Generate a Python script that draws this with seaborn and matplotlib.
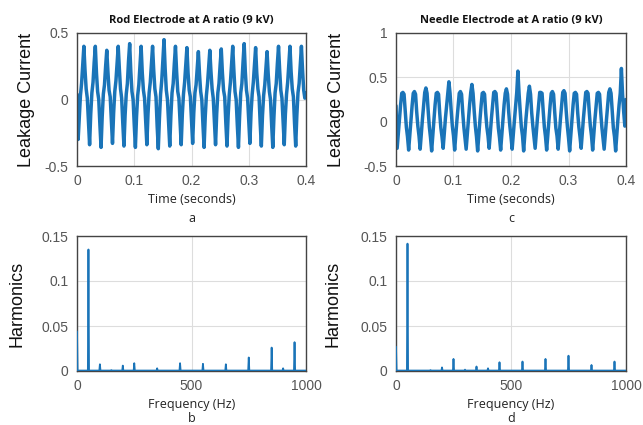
import numpy as np
import pandas as pd
import matplotlib
matplotlib.use("Agg")
import matplotlib.pyplot as plt
import seaborn as sns

# ---------------- data ----------------
# leakage current samples every 2 ms, 0 .. 0.4 s (one row = one 20 ms cycle)
rod_current = [
    0.04, -0.30, -0.14, 0.03, 0.12, 0.26, 0.40, 0.22, 0.08, 0.01,
    -0.17, -0.34, -0.11, 0.05, 0.13, 0.28, 0.40, 0.20, 0.06, 0.00,
    -0.19, -0.36, -0.13, 0.04, 0.11, 0.25, 0.37, 0.21, 0.07, 0.02,
    -0.16, -0.33, -0.10, 0.06, 0.14, 0.27, 0.40, 0.23, 0.08, 0.01,
    -0.18, -0.35, -0.12, 0.04, 0.12, 0.29, 0.42, 0.21, 0.06, 0.00,
    -0.19, -0.36, -0.13, 0.03, 0.11, 0.26, 0.40, 0.20, 0.07, 0.01,
    -0.17, -0.34, -0.11, 0.05, 0.13, 0.27, 0.40, 0.22, 0.08, 0.02,
    -0.20, -0.37, -0.14, 0.04, 0.14, 0.30, 0.45, 0.23, 0.07, 0.00,
    -0.18, -0.35, -0.12, 0.05, 0.12, 0.27, 0.40, 0.21, 0.06, 0.01,
    -0.17, -0.34, -0.11, 0.04, 0.13, 0.26, 0.39, 0.20, 0.07, 0.02,
    -0.16, -0.33, -0.10, 0.05, 0.11, 0.24, 0.36, 0.19, 0.06, 0.00,
    -0.19, -0.36, -0.13, 0.03, 0.12, 0.25, 0.37, 0.21, 0.08, 0.01,
    -0.17, -0.34, -0.11, 0.05, 0.12, 0.26, 0.38, 0.20, 0.07, 0.02,
    -0.18, -0.35, -0.12, 0.04, 0.13, 0.27, 0.40, 0.22, 0.06, 0.00,
    -0.19, -0.36, -0.13, 0.05, 0.12, 0.28, 0.42, 0.21, 0.07, 0.01,
    -0.16, -0.33, -0.10, 0.04, 0.13, 0.26, 0.39, 0.20, 0.08, 0.02,
    -0.18, -0.35, -0.12, 0.03, 0.11, 0.24, 0.36, 0.19, 0.06, 0.00,
    -0.19, -0.36, -0.13, 0.05, 0.12, 0.27, 0.40, 0.22, 0.07, 0.01,
    -0.17, -0.34, -0.11, 0.04, 0.13, 0.27, 0.40, 0.21, 0.08, 0.02,
    -0.18, -0.35, -0.12, 0.05, 0.12, 0.26, 0.40, 0.22, 0.07, 0.01,
    0.05,
]
needle_current = [
    0.18, -0.30, -0.14, 0.03, 0.19, 0.32, 0.33, 0.31, 0.12, -0.06,
    -0.17, -0.32, -0.15, 0.02, 0.18, 0.32, 0.34, 0.31, 0.11, -0.05,
    -0.16, -0.31, -0.14, 0.03, 0.18, 0.33, 0.38, 0.32, 0.12, -0.06,
    -0.18, -0.33, -0.15, 0.02, 0.19, 0.32, 0.33, 0.31, 0.10, -0.07,
    -0.17, -0.30, -0.13, 0.04, 0.18, 0.33, 0.45, 0.32, 0.12, -0.05,
    -0.16, -0.32, -0.15, 0.02, 0.17, 0.32, 0.34, 0.31, 0.11, -0.06,
    -0.18, -0.31, -0.14, 0.03, 0.19, 0.33, 0.42, 0.32, 0.12, -0.05,
    -0.17, -0.33, -0.15, 0.02, 0.18, 0.32, 0.33, 0.31, 0.10, -0.06,
    -0.16, -0.30, -0.13, 0.04, 0.18, 0.33, 0.34, 0.32, 0.12, -0.07,
    -0.18, -0.32, -0.15, 0.03, 0.19, 0.32, 0.37, 0.31, 0.11, -0.05,
    -0.17, -0.31, -0.14, 0.02, 0.18, 0.33, 0.57, 0.32, 0.12, -0.06,
    -0.16, -0.33, -0.15, 0.03, 0.17, 0.32, 0.40, 0.31, 0.10, -0.05,
    -0.18, -0.30, -0.13, 0.04, 0.19, 0.33, 0.33, 0.32, 0.12, -0.06,
    -0.17, -0.32, -0.15, 0.02, 0.18, 0.32, 0.34, 0.31, 0.11, -0.07,
    -0.16, -0.31, -0.14, 0.03, 0.18, 0.33, 0.35, 0.32, 0.12, -0.05,
    -0.18, -0.33, -0.15, 0.02, 0.19, 0.32, 0.33, 0.31, 0.10, -0.06,
    -0.17, -0.30, -0.13, 0.04, 0.18, 0.33, 0.34, 0.32, 0.12, -0.05,
    -0.16, -0.32, -0.15, 0.03, 0.17, 0.32, 0.33, 0.31, 0.11, -0.06,
    -0.18, -0.31, -0.14, 0.02, 0.18, 0.33, 0.37, 0.32, 0.12, -0.07,
    -0.17, -0.33, -0.15, 0.03, 0.19, 0.32, 0.60, 0.31, 0.11, -0.05,
    0.25,
]
sample_step = 0.002  # s

# harmonic spectra: DC value, then line frequencies (Hz) and amplitudes
rod_dc = 0.044
rod_freqs = [50, 100, 150, 200, 250, 350, 450, 550, 650, 750, 850, 900, 950]
rod_amps = [0.135, 0.0075, 0.001, 0.006, 0.0087, 0.003, 0.0087, 0.008, 0.0075,
            0.015, 0.026, 0.003, 0.032]
needle_dc = 0.027
needle_freqs = [50, 150, 200, 250, 300, 350, 400, 450, 550, 650, 750, 850, 950]
needle_amps = [0.1415, 0.001, 0.004, 0.0134, 0.0015, 0.005, 0.003, 0.0097,
               0.0105, 0.0134, 0.017, 0.0067, 0.0105]

titles = ["Rod Electrode at A ratio (9 kV)", "Needle Electrode at A ratio (9 kV)"]
letters = ["a", "c", "b", "d"]

# ---------------- build tables ----------------
def wave_df(values):
    t = np.arange(len(values)) * sample_step
    return pd.DataFrame({"t": t, "i": values})

def spec_df(dc, freqs, amps):
    f = [0.0, 2.5]
    a = [dc, 0.0005]
    for fr, am in zip(freqs, amps):
        f += [fr - 2.5, fr, fr + 2.5]
        a += [0.0005, am, 0.0005]
    f.append(1000.0)
    a.append(0.0005)
    return pd.DataFrame({"f": f, "a": a})

sns.set_style("white")
plt.rcParams["axes.unicode_minus"] = False

W, H = 643, 425
fig = plt.figure(figsize=(W / 100, H / 100), dpi=100)

def px_axes(x0, x1, ytop, ybot):
    return fig.add_axes([x0 / W, 1 - ybot / H, (x1 - x0) / W, (ybot - ytop) / H])

ax_a = px_axes(77, 306, 33, 166)
ax_c = px_axes(396, 626, 33, 166)
ax_b = px_axes(77, 306, 236, 371)
ax_d = px_axes(396, 626, 236, 371)

line_blue = "#1a74b8"
tick_col = "#555555"

sns.lineplot(data=wave_df(rod_current), x="t", y="i", ax=ax_a,
             color=line_blue, lw=2.5, estimator=None)
sns.lineplot(data=wave_df(needle_current), x="t", y="i", ax=ax_c,
             color=line_blue, lw=2.5, estimator=None)
sns.lineplot(data=spec_df(rod_dc, rod_freqs, rod_amps), x="f", y="a", ax=ax_b,
             color=line_blue, lw=1.3, estimator=None, zorder=3)
sns.lineplot(data=spec_df(needle_dc, needle_freqs, needle_amps), x="f", y="a",
             ax=ax_d, color=line_blue, lw=1.3, estimator=None, zorder=3)

for ax in (ax_a, ax_c):
    ax.set_xlim(0, 0.4)
    ax.set_xticks([0, 0.1, 0.2, 0.3, 0.4])
    ax.set_xticklabels(["0", "0.1", "0.2", "0.3", "0.4"])
ax_a.set_ylim(-0.5, 0.5)
ax_a.set_yticks([-0.5, 0, 0.5])
ax_a.set_yticklabels(["-0.5", "0", "0.5"])
ax_c.set_ylim(-0.5, 1)
ax_c.set_yticks([-0.5, 0, 0.5, 1])
ax_c.set_yticklabels(["-0.5", "0", "0.5", "1"])
for ax in (ax_b, ax_d):
    ax.set_xlim(0, 1000)
    ax.set_xticks([0, 500, 1000])
    ax.set_xticklabels(["0", "500", "1000"])
    ax.set_ylim(0, 0.15)
    ax.set_yticks([0, 0.05, 0.1, 0.15])
    ax.set_yticklabels(["0", "0.05", "0.1", "0.15"])

label_font = dict(family="Liberation Sans", fontsize=13, color="#111111")
x_font = dict(family="Open Sans", fontsize=9, color="#222222")

for ax, title in zip((ax_a, ax_c), titles):
    ax.text(0.5, 1 + 13 / 133, title, transform=ax.transAxes, ha="center",
            va="center", family="Open Sans", fontweight="bold", fontsize=8,
            color="#111111")

ax_a.set_ylabel("Leakage Current", **label_font)
ax_c.set_ylabel("Leakage Current", **label_font)
ax_b.set_ylabel("Harmonics", **label_font)
ax_d.set_ylabel("Harmonics", **label_font)
ax_a.yaxis.set_label_coords(-0.183, 0.5)
ax_c.yaxis.set_label_coords(-0.223, 0.5)
ax_b.yaxis.set_label_coords(-0.227, 0.5)
ax_d.yaxis.set_label_coords(-0.236, 0.5)

for ax in (ax_a, ax_c):
    ax.set_xlabel("Time (seconds)", **x_font)
    ax.xaxis.set_label_coords(0.5, -27 / 133)
for ax in (ax_b, ax_d):
    ax.set_xlabel("Frequency (Hz)", **x_font)
    ax.xaxis.set_label_coords(0.5, -27 / 135)

for ax, letter, yy in zip((ax_a, ax_c, ax_b, ax_d), letters,
                          (-53 / 133, -53 / 133, -47 / 135, -47 / 135)):
    ax.text(0.5, yy, letter, transform=ax.transAxes, ha="center", va="center",
            **x_font)

for ax in (ax_a, ax_c, ax_b, ax_d):
    ax.grid(True, color="#dddddd", lw=0.8)
    ax.set_axisbelow(True)
    for s in ax.spines.values():
        s.set_visible(True)
        s.set_color("#444444")
        s.set_linewidth(1.0)
    ax.tick_params(axis="both", direction="in", length=3, width=0.6,
                   colors="#444444", labelcolor=tick_col, labelsize=10)
    ax.tick_params(axis="x", pad=6)
    ax.tick_params(axis="y", pad=6)
    for lab in ax.get_xticklabels() + ax.get_yticklabels():
        lab.set_family("Liberation Sans")

fig.savefig("out.png", dpi=100)
